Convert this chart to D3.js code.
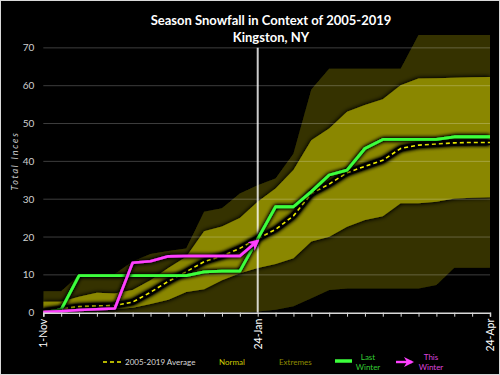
<!DOCTYPE html>
<html>
<head>
<meta charset="utf-8">
<script src="https://cdn.jsdelivr.net/npm/d3@7"></script>
<style>
  body { margin: 0; background: #000; }
  text { font-family: Lato, "Open Sans", sans-serif; }
</style>
</head>
<body>
<div id="grafico"></div>
<script>
// weekly dates on the category axis
const fechas = ["1-Nov", "8-Nov", "15-Nov", "22-Nov", "29-Nov", "6-Dec", "13-Dec", "20-Dec", "27-Dec",
    "3-Jan", "10-Jan", "17-Jan", "24-Jan", "31-Jan", "7-Feb", "14-Feb", "21-Feb", "28-Feb",
    "7-Mar", "14-Mar", "21-Mar", "28-Mar", "4-Apr", "11-Apr", "18-Apr", "24-Apr"];
const etiquetasX = ["1-Nov", "24-Jan", "24-Apr"];
const ticksY = [0, 10, 20, 30, 40, 50, 60, 70];

// 2005-2019 extremes and normal range (inches)
const maximo = [5.7, 5.7, 9.9, 10.0, 10.2, 13.5, 15.5, 16.3, 17.0, 26.7, 27.6, 31.5, 33.7,
    35.5, 42.0, 59.0, 64.5, 64.5, 64.5, 64.5, 64.5, 73.4, 73.4, 73.4, 73.4, 73.4];
const minimo = [0, 0, 0, 0, 0, 0, 0, 0, 0, 0, 0, 0, 0.3,
    0.8, 1.7, 3.8, 6.0, 6.4, 6.4, 6.4, 6.4, 6.4, 7.3, 11.9, 11.9, 11.9];
const normalAlto = [2.9, 2.9, 4.2, 5.3, 5.1, 6.0, 8.6, 11.8, 14.8, 21.5, 22.8, 25.0, 29.3,
    32.8, 37.7, 45.6, 48.7, 53.1, 54.9, 56.4, 60.1, 61.9, 62.0, 62.1, 62.2, 62.3];
const normalBajo = [1.2, 1.2, 1.0, 1.0, 1.0, 1.3, 2.3, 3.4, 5.5, 6.2, 8.6, 10.4, 11.8,
    12.9, 14.4, 18.8, 20.1, 22.7, 24.5, 25.5, 28.9, 28.9, 29.3, 30.2, 30.4, 30.5];
const promedio = [0.3, 1.0, 1.6, 1.8, 1.9, 2.8, 5.4, 8.3, 10.8, 13.5, 15.0, 17.0, 19.6,
    22.0, 25.6, 31.5, 34.0, 37.0, 38.7, 40.3, 43.4, 44.3, 44.6, 44.9, 45.0, 45.0];

// last winter and this winter (to 24-Jan)
const inviernoPasado = [0, 0.8, 9.8, 9.8, 9.8, 9.8, 9.8, 9.8, 9.8, 10.8, 11.0, 11.0, 19.5,
    28.0, 28.0, 32.0, 36.4, 37.7, 43.4, 45.8, 45.8, 45.8, 45.8, 46.5, 46.5, 46.5];
const inviernoActual = [0.2, 0.4, 0.7, 0.9, 1.1, 13.2, 13.6, 14.9, 15.0, 15.0, 15.0, 15.0, 19.0];

const fechaHoy = "24-Jan";
const topeY = 73.4;

const svgWidth = 500, svgHeight = 375;
const margin = { top: 35, right: 10, bottom: 62.3, left: 43.3 };
const width = svgWidth - margin.left - margin.right;
const height = svgHeight - margin.top - margin.bottom;

const svgRoot = d3.select("#grafico")
    .append("svg")
    .attr("width", svgWidth)
    .attr("height", svgHeight);

svgRoot.append("rect")
    .attr("x", 0.5).attr("y", 0.5)
    .attr("width", svgWidth - 1).attr("height", svgHeight - 1)
    .attr("fill", "#000")
    .attr("stroke", "#d9d9d9");

const defs = svgRoot.append("defs");

// black glow used by areas and lines
function filtroBrillo(id, sd, slope) {
    const f = defs.append("filter")
        .attr("id", id)
        .attr("filterUnits", "userSpaceOnUse")
        .attr("x", 0).attr("y", 0)
        .attr("width", svgWidth).attr("height", svgHeight);
    f.append("feGaussianBlur").attr("in", "SourceAlpha").attr("stdDeviation", sd).attr("result", "b");
    f.append("feComponentTransfer").attr("in", "b").attr("result", "b2")
        .append("feFuncA").attr("type", "linear").attr("slope", slope);
    const m = f.append("feMerge");
    m.append("feMergeNode").attr("in", "b2");
    m.append("feMergeNode").attr("in", "SourceGraphic");
}
filtroBrillo("brilloArea", 2.5, 1.6);
filtroBrillo("brilloLinea", 2.2, 2.2);

defs.append("clipPath").attr("id", "recorte")
    .append("rect")
    .attr("x", 0).attr("y", 0)
    .attr("width", width).attr("height", height);

defs.append("marker")
    .attr("id", "flecha")
    .attr("viewBox", "0 0 10 10")
    .attr("refX", 8).attr("refY", 5)
    .attr("markerWidth", 4.2).attr("markerHeight", 4.2)
    .attr("markerUnits", "strokeWidth")
    .attr("orient", "auto")
    .append("path")
    .attr("d", "M0,0 L10,5 L0,10 L3,5 Z")
    .attr("fill", "#ff40ff");

const svg = svgRoot.append("g")
    .attr("transform", `translate(${margin.left}, ${margin.top})`);

const x = d3.scalePoint()
    .domain(fechas)
    .range([0, width]);

const y = d3.scaleLinear()
    .domain([0, topeY])
    .range([height, 0]);

const datos = fechas.map((f, i) => ({
    fecha: f,
    max: maximo[i], min: minimo[i],
    alto: normalAlto[i], bajo: normalBajo[i],
    prom: promedio[i], pasado: inviernoPasado[i],
    actual: i < inviernoActual.length ? inviernoActual[i] : null
}));

const zona = svg.append("g").attr("clip-path", "url(#recorte)");

// extremes then normal band
zona.append("path")
    .datum(datos)
    .attr("fill", "#353300")
    .attr("filter", "url(#brilloArea)")
    .attr("d", d3.area().x(d => x(d.fecha)).y0(d => y(d.min)).y1(d => y(d.max)));

zona.append("path")
    .datum(datos)
    .attr("fill", "#8a8700")
    .attr("filter", "url(#brilloArea)")
    .attr("d", d3.area().x(d => x(d.fecha)).y0(d => y(d.bajo)).y1(d => y(d.alto)));

// grid
svg.append("g")
    .selectAll("line")
    .data(ticksY.filter(t => t > 0))
    .enter()
    .append("line")
    .attr("x1", 0).attr("x2", width)
    .attr("y1", d => y(d)).attr("y2", d => y(d))
    .attr("stroke", "#fff")
    .attr("stroke-opacity", 0.24)
    .attr("stroke-width", 1);

// today marker
svg.append("line")
    .attr("x1", x(fechaHoy)).attr("x2", x(fechaHoy))
    .attr("y1", y(0)).attr("y2", y(70))
    .attr("stroke", "#fff")
    .attr("stroke-opacity", 0.8)
    .attr("stroke-width", 2);

const linea = campo => d3.line()
    .defined(d => d[campo] !== null)
    .x(d => x(d.fecha))
    .y(d => y(d[campo]));

// average: black casing + dashed yellow
svg.append("path")
    .datum(datos)
    .attr("fill", "none")
    .attr("stroke", "#000")
    .attr("stroke-width", 5)
    .attr("filter", "url(#brilloLinea)")
    .attr("d", linea("prom"));

svg.append("path")
    .datum(datos)
    .attr("fill", "none")
    .attr("stroke", "#f0f000")
    .attr("stroke-width", 1.6)
    .attr("stroke-dasharray", "4,3")
    .attr("d", linea("prom"));

// last winter
svg.append("path")
    .datum(datos)
    .attr("fill", "none")
    .attr("stroke", "#3cff3c")
    .attr("stroke-width", 2.8)
    .attr("stroke-linejoin", "round")
    .attr("filter", "url(#brilloLinea)")
    .attr("d", linea("pasado"));

// this winter
svg.append("path")
    .datum(datos.filter(d => d.actual !== null))
    .attr("fill", "none")
    .attr("stroke", "#ff40ff")
    .attr("stroke-width", 2.6)
    .attr("stroke-linejoin", "round")
    .attr("filter", "url(#brilloLinea)")
    .attr("marker-end", "url(#flecha)")
    .attr("d", linea("actual"));

// x axis
const ejeX = svg.append("g")
    .attr("transform", `translate(0, ${height})`)
    .call(d3.axisBottom(x).tickSize(4).tickFormat(d => etiquetasX.includes(d) ? d : ""));
ejeX.select(".domain").attr("stroke", "#d9d9d9").attr("stroke-width", 1.5);
ejeX.selectAll(".tick line").attr("stroke", "#d9d9d9");
ejeX.selectAll("text")
    .attr("fill", "#fff")
    .style("font-size", "10.5px")
    .attr("transform", "rotate(-90)")
    .attr("x", -6).attr("y", 0).attr("dy", "0.35em")
    .style("text-anchor", "end");

// y labels
svg.append("g")
    .selectAll("text")
    .data(ticksY)
    .enter()
    .append("text")
    .attr("x", -9)
    .attr("y", d => y(d))
    .attr("dy", "0.35em")
    .attr("text-anchor", "end")
    .attr("fill", "#d0d0d0")
    .style("font-size", "10px")
    .text(d => d);

svgRoot.append("text")
    .attr("transform", "translate(18, 161) rotate(-90)")
    .attr("text-anchor", "middle")
    .attr("fill", "#d0d0d0")
    .style("font-size", "9px")
    .style("font-style", "italic")
    .style("letter-spacing", "1.8px")
    .text("Total Inces");

// title
svgRoot.append("text")
    .attr("x", 271).attr("y", 25)
    .attr("text-anchor", "middle")
    .attr("fill", "#fff")
    .style("font-size", "13px").style("font-weight", "bold")
    .text("Season Snowfall in Context of 2005-2019");
svgRoot.append("text")
    .attr("x", 271).attr("y", 42)
    .attr("text-anchor", "middle")
    .attr("fill", "#fff")
    .style("font-size", "13px").style("font-weight", "bold")
    .text("Kingston, NY");

// legend
const leyenda = svgRoot.append("g").style("font-size", "8px");
leyenda.append("line")
    .attr("x1", 103).attr("x2", 122).attr("y1", 362).attr("y2", 362)
    .attr("stroke", "#f0f000").attr("stroke-width", 1.3).attr("stroke-dasharray", "4,3");
leyenda.append("text").attr("x", 125).attr("y", 365).attr("fill", "#d9d9d9").text("2005-2019 Average");
leyenda.append("text").attr("x", 219).attr("y", 365).attr("fill", "#cccc00").text("Normal");
leyenda.append("text").attr("x", 279).attr("y", 365).attr("fill", "#8f8c00").text("Extremes");

leyenda.append("line")
    .attr("x1", 335).attr("x2", 352).attr("y1", 361).attr("y2", 361)
    .attr("stroke", "#3cff3c").attr("stroke-width", 3.5);
leyenda.append("text").attr("x", 368).attr("y", 360).attr("text-anchor", "middle").attr("fill", "#33cc33").text("Last");
leyenda.append("text").attr("x", 368).attr("y", 370).attr("text-anchor", "middle").attr("fill", "#33cc33").text("Winter");

leyenda.append("line")
    .attr("x1", 396).attr("x2", 412).attr("y1", 362).attr("y2", 362)
    .attr("stroke", "#ff40ff").attr("stroke-width", 2.4)
    .attr("marker-end", "url(#flecha)");
leyenda.append("text").attr("x", 431).attr("y", 360).attr("text-anchor", "middle").attr("fill", "#dd44dd").text("This");
leyenda.append("text").attr("x", 431).attr("y", 370).attr("text-anchor", "middle").attr("fill", "#dd44dd").text("Winter");
</script>
</body>
</html>
